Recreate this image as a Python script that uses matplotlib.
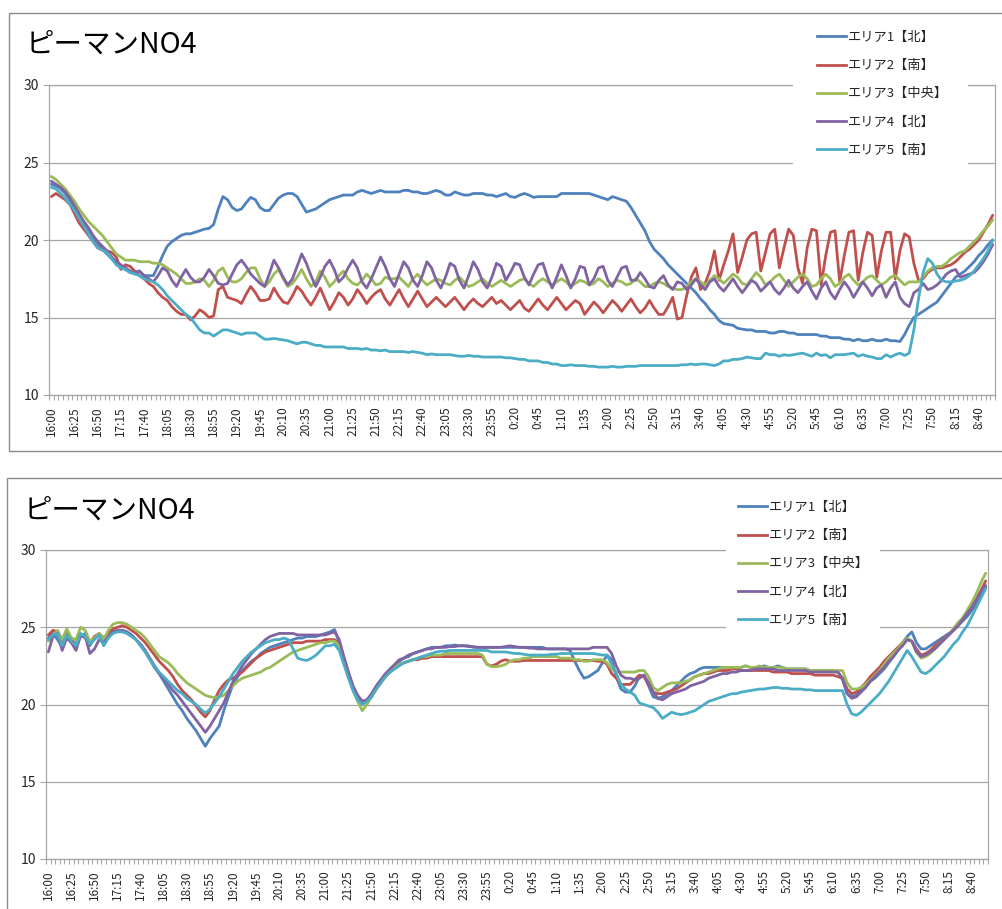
import matplotlib
matplotlib.use("Agg")
import matplotlib.pyplot as plt
from matplotlib.patches import Rectangle
from matplotlib.lines import Line2D
from matplotlib.ticker import FixedLocator, NullFormatter

plt.rcParams['font.family'] = ['Noto Sans CJK JP', 'DejaVu Sans']

# ---- categories: 5-minute readings from 16:00 to 8:55 ----
times = []
for k in range(204):
    m = 16 * 60 + 5 * k
    h = (m // 60) % 24
    times.append(f"{h}:{m % 60:02d}")

series_names = ["エリア1【北】", "エリア2【南】", "エリア3【中央】", "エリア4【北】", "エリア5【南】"]
series_colors = ["#4F81BD", "#C0504D", "#9BBB59", "#8064A2", "#4BACC6"]

# ---- upper chart ----
upper_area1 = [
    23.6, 23.5, 23.3, 23.0, 22.6, 22.1, 21.6, 21.1, 20.7, 20.2,
    19.8, 19.4, 19.1, 18.8, 18.5, 18.3, 18.1, 17.9, 17.9, 18.0,
    17.7, 17.7, 17.7, 18.3, 19.0, 19.6, 19.9, 20.1, 20.3, 20.4,
    20.4, 20.5, 20.6, 20.7, 20.75, 21.0, 22.0, 22.8, 22.6, 22.1,
    21.9, 22.0, 22.4, 22.75, 22.6, 22.1, 21.9, 21.9, 22.3, 22.7,
    22.9, 23.0, 23.0, 22.8, 22.3, 21.8, 21.9, 22.0, 22.2, 22.4,
    22.6, 22.7, 22.8, 22.9, 22.9, 22.9, 23.1, 23.2, 23.1, 23.0,
    23.1, 23.2, 23.1, 23.1, 23.1, 23.1, 23.2, 23.2, 23.1, 23.1,
    23.0, 23.0, 23.1, 23.2, 23.1, 22.9, 22.9, 23.1, 23.0, 22.9,
    22.9, 23.0, 23.0, 23.0, 22.9, 22.9, 22.8, 22.9, 23.0, 22.8,
    22.75, 22.9, 23.0, 22.9, 22.75, 22.8, 22.8, 22.8, 22.8, 22.8,
    23.0, 23.0, 23.0, 23.0, 23.0, 23.0, 23.0, 22.9, 22.8, 22.7,
    22.6, 22.8, 22.7, 22.6, 22.5, 22.1, 21.6, 21.1, 20.6, 19.9,
    19.4, 19.1, 18.8, 18.4, 18.1, 17.8, 17.5, 17.2, 16.9, 16.6,
    16.2, 15.9, 15.5, 15.2, 14.8, 14.6, 14.55, 14.5, 14.3, 14.25,
    14.2, 14.2, 14.1, 14.1, 14.1, 14.0, 14.0, 14.1, 14.1, 14.0,
    14.0, 13.9, 13.9, 13.9, 13.9, 13.9, 13.8, 13.8, 13.7, 13.7,
    13.7, 13.6, 13.6, 13.5, 13.6, 13.5, 13.5, 13.6, 13.5, 13.5,
    13.6, 13.5, 13.5, 13.45, 13.9, 14.5, 15.0, 15.2, 15.4, 15.6,
    15.8, 16.0, 16.4, 16.8, 17.2, 17.6, 17.8, 18.0, 18.3, 18.6,
    19.0, 19.3, 19.7, 20.0,
]
upper_area2 = [
    22.8, 23.0, 22.8, 22.6, 22.3, 21.7, 21.1, 20.7, 20.3, 19.9,
    19.5, 19.35, 19.3, 19.2, 18.9, 18.1, 18.4, 18.3, 18.0, 17.7,
    17.5, 17.2, 17.0, 16.6, 16.3, 16.1, 15.7, 15.4, 15.2, 15.2,
    14.85, 15.1, 15.5, 15.3, 15.0, 15.1, 16.8, 17.0, 16.3, 16.2,
    16.1, 15.9, 16.5, 17.0, 16.6, 16.1, 16.1, 16.2, 16.9, 16.4,
    16.0, 15.9, 16.4, 17.0, 16.7, 16.2, 15.8, 16.3, 16.9, 16.2,
    15.5, 16.0, 16.6, 16.3, 15.8, 16.2, 16.8, 16.4, 15.9, 16.3,
    16.6, 16.8, 16.2, 15.8, 16.3, 16.8, 16.2, 15.7, 16.2, 16.7,
    16.2, 15.7, 16.0, 16.3, 16.0, 15.7, 16.0, 16.3, 15.9, 15.5,
    15.9, 16.2, 15.9, 15.7, 16.0, 16.3, 15.9, 16.1, 15.8, 15.5,
    15.8, 16.1, 15.6, 15.4, 15.8, 16.2, 15.8, 15.5, 15.9, 16.3,
    15.9, 15.5, 15.8, 16.1, 15.9, 15.2, 15.6, 16.0, 15.7, 15.3,
    15.7, 16.1, 15.8, 15.4, 15.8, 16.2, 15.7, 15.3, 15.6, 16.1,
    15.6, 15.2, 15.2, 15.7, 16.3, 14.9, 15.0, 16.4, 17.6, 18.2,
    16.8, 17.2, 18.0, 19.3, 17.4, 18.4, 19.3, 20.4, 17.9, 18.9,
    20.0, 20.4, 20.5, 18.0, 19.2, 20.4, 20.7, 18.2, 19.5, 20.7,
    20.3, 18.2, 17.2, 19.5, 20.7, 20.6, 17.1, 19.0, 20.5, 20.6,
    17.3, 19.0, 20.5, 20.6, 17.4, 19.2, 20.5, 20.3, 17.6, 19.3,
    20.5, 20.5, 17.5, 19.3, 20.4, 20.2, 18.5, 17.4, 17.5, 17.9,
    18.1, 18.2, 18.2, 18.3, 18.4, 18.6, 18.9, 19.2, 19.4, 19.7,
    20.0, 20.5, 21.0, 21.6,
]
upper_area3 = [
    24.1, 23.9, 23.6, 23.3, 22.9, 22.5, 22.0, 21.6, 21.2, 20.9,
    20.6, 20.3, 19.9, 19.5, 19.1, 18.9, 18.7, 18.7, 18.7, 18.6,
    18.6, 18.6, 18.5, 18.5, 18.4, 18.2, 18.0, 17.8, 17.5, 17.2,
    17.2, 17.3, 17.5, 17.4, 17.0, 17.4, 18.0, 18.2, 17.6, 17.3,
    17.3, 17.5, 17.9, 18.2, 18.2, 17.5, 17.0, 17.3, 17.8, 18.1,
    17.5, 17.0, 17.2, 17.6, 18.1, 17.5, 17.0, 17.3, 18.0, 17.6,
    17.0, 17.3, 17.7, 18.0, 17.5, 17.2, 17.1, 17.4, 17.8, 17.5,
    17.1, 17.2, 17.6, 17.5, 17.5, 17.6, 17.3, 17.0, 17.5, 17.8,
    17.4, 17.1, 17.3, 17.5, 17.4, 17.2, 17.1, 17.4, 17.6, 17.3,
    17.0, 17.1, 17.3, 17.5, 17.2, 17.0, 17.2, 17.4, 17.2, 17.0,
    17.2, 17.4, 17.5, 17.2, 17.0, 17.3, 17.5, 17.3, 17.1, 17.3,
    17.5, 17.3, 17.0, 17.2, 17.4, 17.3, 17.1, 17.2, 17.5, 17.3,
    17.0, 17.2, 17.4, 17.3, 17.1, 17.2, 17.5, 17.3, 17.0, 17.0,
    17.2, 17.3, 17.2, 17.0, 16.9, 16.8, 16.8, 17.0, 17.3, 17.5,
    17.3, 17.1, 17.4, 17.7, 17.5, 17.2, 17.5, 17.8, 17.6, 17.2,
    17.1, 17.5, 17.9, 17.6, 17.1, 17.3, 17.6, 17.8, 17.4, 17.0,
    17.3, 17.6, 17.8, 17.5, 17.0, 17.1, 17.5, 17.8, 17.5, 17.0,
    17.2, 17.6, 17.8, 17.4, 17.1, 17.3, 17.6, 17.7, 17.4, 17.1,
    17.3, 17.6, 17.7, 17.4, 17.1, 17.3, 17.3, 17.3, 17.6, 18.0,
    18.2, 18.3, 18.3, 18.5, 18.8, 19.0, 19.2, 19.3, 19.6, 19.9,
    20.2, 20.6, 20.9, 21.3,
]
upper_area4 = [
    23.8, 23.6, 23.4, 23.1, 22.7, 22.2, 21.7, 21.2, 20.8, 20.3,
    19.9, 19.6, 19.3, 18.9, 18.6, 18.4, 18.2, 18.0, 17.9, 18.0,
    17.7, 17.5, 17.3, 17.7, 18.2, 18.0, 17.4, 17.0, 17.6, 18.1,
    17.6, 17.3, 17.3, 17.6, 18.1, 17.7, 17.2, 17.1, 17.2, 17.8,
    18.4, 18.7, 18.3, 17.8, 17.5, 17.2, 17.0, 17.8, 18.7, 18.2,
    17.6, 17.1, 17.5, 18.3, 19.1, 18.5, 17.7, 17.0, 17.6, 18.3,
    18.7, 18.1, 17.3, 17.6, 18.2, 18.7, 18.2, 17.3, 16.9, 17.5,
    18.2, 18.9, 18.3, 17.5, 17.0, 17.8, 18.6, 18.2, 17.4, 17.0,
    17.7, 18.6, 18.2, 17.4, 16.9, 17.6, 18.5, 18.3, 17.4, 16.9,
    17.7, 18.6, 18.1, 17.3, 16.9, 17.6, 18.5, 18.3, 17.4, 17.9,
    18.5, 18.4, 17.6, 17.1, 17.8, 18.4, 18.5, 17.6, 16.9, 17.6,
    18.4, 17.7, 16.9, 17.5, 18.3, 18.2, 17.1, 17.5, 18.2, 18.3,
    17.4, 17.0, 17.6, 18.2, 18.3, 17.4, 17.4, 17.9, 17.5, 17.0,
    16.9, 17.4, 17.7, 17.1, 16.8, 17.3, 17.2, 16.8, 17.1, 17.5,
    17.1, 16.8, 17.3, 17.5, 17.0, 16.7, 17.1, 17.5, 17.0, 16.6,
    17.0, 17.4, 17.2, 16.7, 17.0, 17.3, 16.8, 16.5, 16.9, 17.4,
    16.9, 16.6, 17.0, 17.3, 16.7, 16.2, 16.9, 17.3, 16.6, 16.2,
    16.8, 17.3, 16.9, 16.3, 16.8, 17.3, 16.9, 16.4, 16.9, 17.1,
    16.3, 16.9, 17.3, 16.3, 15.9, 15.7, 16.6, 16.8, 17.2, 16.8,
    16.9, 17.1, 17.4, 17.8, 18.0, 18.1, 17.6, 17.7, 17.8, 17.9,
    18.2, 18.6, 19.1, 19.7,
]
upper_area5 = [
    23.4, 23.3, 23.0, 22.7, 22.3, 21.9, 21.4, 20.9, 20.4, 19.9,
    19.5, 19.35, 19.2, 18.8, 18.4, 18.2, 18.1, 17.9, 17.8, 17.7,
    17.5, 17.4, 17.3, 17.1, 16.8, 16.4, 16.1, 15.8, 15.5, 15.2,
    15.0, 14.6, 14.2, 14.0, 14.0, 13.8, 14.0, 14.2, 14.2, 14.1,
    14.0, 13.9, 14.0, 14.0, 14.0, 13.8, 13.6, 13.6, 13.65, 13.6,
    13.55, 13.5, 13.4, 13.3, 13.4, 13.4, 13.3, 13.2, 13.2, 13.1,
    13.1, 13.1, 13.1, 13.1, 13.0, 13.0, 13.0, 12.95, 13.0, 12.9,
    12.9, 12.85, 12.9, 12.8, 12.8, 12.8, 12.8, 12.75, 12.8, 12.75,
    12.7, 12.6, 12.65, 12.6, 12.6, 12.6, 12.6, 12.55, 12.5, 12.5,
    12.55, 12.5, 12.5, 12.45, 12.45, 12.45, 12.45, 12.45, 12.4, 12.4,
    12.35, 12.3, 12.3, 12.2, 12.2, 12.2, 12.1, 12.1, 12.0, 12.0,
    11.9, 11.9, 11.95, 11.9, 11.9, 11.9, 11.85, 11.85, 11.8, 11.8,
    11.8, 11.85, 11.8, 11.8, 11.85, 11.85, 11.85, 11.9, 11.9, 11.9,
    11.9, 11.9, 11.9, 11.9, 11.9, 11.9, 11.95, 11.95, 12.0, 11.95,
    12.0, 12.0, 11.95, 11.9, 12.0, 12.2, 12.2, 12.3, 12.3, 12.35,
    12.45, 12.4, 12.35, 12.35, 12.7, 12.6, 12.6, 12.5, 12.6, 12.55,
    12.6, 12.65, 12.7, 12.6, 12.5, 12.7, 12.55, 12.6, 12.4, 12.6,
    12.6, 12.6, 12.65, 12.7, 12.5, 12.6, 12.5, 12.45, 12.35, 12.35,
    12.6, 12.45, 12.6, 12.7, 12.55, 12.7, 14.2, 16.2, 17.9, 18.8,
    18.5, 17.8, 17.4, 17.3, 17.3, 17.35, 17.4, 17.5, 17.7, 18.0,
    18.4, 18.8, 19.3, 20.0,
]

# ---- lower chart ----
lower_area1 = [
    24.3, 24.6, 24.2, 23.7, 24.5, 24.0, 23.7, 24.4, 24.6, 23.8,
    24.3, 24.5, 24.0, 24.4, 24.7, 24.8, 24.8, 24.7, 24.5, 24.2,
    23.8, 23.4, 22.9, 22.4, 22.0, 21.5, 21.0, 20.5, 20.0, 19.6,
    19.1, 18.7, 18.3, 17.8, 17.3, 17.8, 18.2, 18.6, 19.6, 20.5,
    21.3, 21.8, 22.2, 22.5, 22.8, 23.0, 23.3, 23.5, 23.7, 23.8,
    23.9, 24.0, 24.1, 24.2, 24.3, 24.3, 24.4, 24.4, 24.4, 24.5,
    24.6, 24.7, 24.85, 24.0, 23.0, 22.0, 21.1, 20.5, 20.1, 20.3,
    20.6, 21.0, 21.5, 21.9, 22.2, 22.5, 22.8, 23.0, 23.1, 23.3,
    23.4, 23.5, 23.6, 23.7, 23.7, 23.7, 23.8, 23.8, 23.85, 23.8,
    23.8, 23.8, 23.7, 23.7, 23.7, 23.7, 23.7, 23.7, 23.7, 23.7,
    23.7, 23.7, 23.7, 23.7, 23.7, 23.7, 23.7, 23.7, 23.6, 23.6,
    23.6, 23.6, 23.6, 23.5, 22.8, 22.2, 21.7, 21.8, 22.0, 22.2,
    22.7, 23.2, 22.9, 21.8, 21.0, 20.8, 20.8, 21.2, 21.8, 21.9,
    21.2, 20.5, 20.4, 20.5, 20.7, 20.9, 21.2, 21.5, 21.8, 22.0,
    22.1, 22.3, 22.4, 22.4, 22.4, 22.4, 22.4, 22.4, 22.4, 22.4,
    22.4, 22.5, 22.4, 22.4, 22.4, 22.5, 22.4, 22.4, 22.5, 22.4,
    22.3, 22.3, 22.3, 22.3, 22.3, 22.2, 22.2, 22.2, 22.2, 22.2,
    22.2, 22.1, 21.6, 20.7, 20.5, 20.6, 20.9, 21.2, 21.5, 21.7,
    22.0, 22.3, 22.7, 23.1, 23.5, 24.0, 24.4, 24.7, 24.0, 23.6,
    23.6, 23.8, 24.0, 24.2, 24.4, 24.6, 24.8, 25.1, 25.4, 25.7,
    26.1, 26.5, 27.0, 27.6,
]
lower_area2 = [
    24.5, 24.8, 24.7, 24.0, 24.6, 24.2, 23.9, 24.5, 24.3, 24.0,
    24.4, 24.6, 24.3, 24.6, 24.9, 25.0, 25.1, 25.0, 24.8, 24.6,
    24.3, 24.0, 23.6, 23.2, 22.8, 22.5, 22.2, 21.8, 21.3, 20.9,
    20.6, 20.3, 19.9, 19.5, 19.2, 19.6, 20.3, 20.9, 21.3, 21.6,
    21.7, 21.9, 22.1, 22.4, 22.7, 23.0, 23.2, 23.4, 23.5, 23.6,
    23.7, 23.8, 23.9, 24.0, 24.0, 24.0, 24.1, 24.1, 24.1, 24.1,
    24.2, 24.2, 24.2, 23.9, 23.0, 22.0, 21.1, 20.5, 20.2, 20.3,
    20.5, 21.0, 21.4, 21.8, 22.1, 22.4, 22.6, 22.7, 22.8, 22.9,
    22.9, 23.0, 23.0, 23.1, 23.1, 23.1, 23.1, 23.1, 23.1, 23.1,
    23.1, 23.1, 23.1, 23.1, 23.1, 22.6, 22.5, 22.6, 22.8, 22.9,
    22.8, 22.8, 22.8, 22.85, 22.85, 22.85, 22.85, 22.85, 22.85, 22.85,
    22.85, 22.85, 22.85, 22.85, 22.85, 22.85, 22.85, 22.85, 22.85, 22.8,
    22.8, 22.6, 22.0, 21.7, 21.3, 21.3, 21.3, 21.6, 21.9, 21.8,
    21.3, 20.8, 20.7, 20.7, 20.8, 20.9, 21.0, 21.2, 21.4, 21.6,
    21.8, 21.9, 22.0, 22.0, 22.1, 22.2, 22.2, 22.2, 22.3, 22.3,
    22.2, 22.2, 22.2, 22.2, 22.2, 22.2, 22.2, 22.1, 22.1, 22.1,
    22.1, 22.0, 22.0, 22.0, 22.0, 22.0, 21.9, 21.9, 21.9, 21.9,
    21.9, 21.8, 21.7, 21.0, 20.7, 20.8, 21.1, 21.4, 21.8, 22.1,
    22.4, 22.8, 23.1, 23.4, 23.7, 24.0, 24.2, 24.1, 23.6, 23.2,
    23.3, 23.5, 23.8, 24.0, 24.3, 24.5, 24.8, 25.1, 25.5, 25.9,
    26.3, 26.8, 27.4, 28.0,
]
lower_area3 = [
    24.1, 24.4, 24.8, 24.2, 24.9, 24.3, 24.2, 25.0, 24.8, 24.1,
    24.3, 24.6, 24.2, 24.8, 25.2, 25.3, 25.3, 25.2, 25.0, 24.8,
    24.6, 24.3, 23.9, 23.5, 23.1, 22.9, 22.7, 22.4, 22.0, 21.7,
    21.4, 21.2, 21.0, 20.8, 20.6, 20.5, 20.45, 20.5, 20.6, 20.9,
    21.2, 21.5, 21.7, 21.8, 21.9, 22.0, 22.1, 22.3, 22.4, 22.6,
    22.8, 23.0, 23.2, 23.4, 23.5, 23.6, 23.7, 23.8, 23.9, 24.0,
    24.0, 24.1, 24.1, 23.8, 22.8, 21.8, 20.9, 20.2, 19.6, 20.0,
    20.5, 21.0, 21.4, 21.8, 22.1, 22.4, 22.6, 22.7, 22.8, 22.9,
    23.0, 23.1, 23.1, 23.2, 23.2, 23.2, 23.3, 23.3, 23.3, 23.3,
    23.3, 23.3, 23.3, 23.3, 23.2, 22.6, 22.45, 22.45, 22.5, 22.6,
    22.8, 22.9, 22.9, 23.0, 23.0, 23.1, 23.1, 23.1, 23.1, 23.1,
    23.1, 23.0, 23.0, 23.0, 22.9, 22.9, 22.8, 22.8, 22.9, 22.9,
    22.9, 22.7, 22.3, 22.1, 22.1, 22.1, 22.1, 22.1, 22.2, 22.2,
    21.8, 21.1, 20.9, 21.1, 21.3, 21.4, 21.4, 21.4, 21.5, 21.6,
    21.8, 21.9, 22.0, 22.1, 22.2, 22.3, 22.4, 22.4, 22.4, 22.4,
    22.4, 22.5, 22.4, 22.4, 22.5, 22.4, 22.4, 22.4, 22.4, 22.4,
    22.3, 22.3, 22.3, 22.3, 22.3, 22.2, 22.2, 22.2, 22.2, 22.2,
    22.2, 22.2, 22.2, 21.4, 21.0, 21.0, 21.1, 21.3, 21.6, 21.9,
    22.2, 22.6, 23.0, 23.3, 23.6, 24.0, 24.3, 24.1, 23.4, 23.0,
    23.1, 23.3, 23.6, 23.9, 24.2, 24.5, 24.9, 25.3, 25.6, 26.1,
    26.6, 27.2, 27.9, 28.5,
]
lower_area4 = [
    23.4, 24.4, 24.6, 23.5, 24.3, 24.0, 23.5, 24.5, 24.4, 23.3,
    23.6, 24.2, 24.0, 24.4, 24.7, 24.8, 24.8, 24.7, 24.5, 24.2,
    23.9, 23.5, 23.0, 22.5, 22.0, 21.7, 21.3, 20.9, 20.6, 20.2,
    19.8, 19.4, 19.0, 18.6, 18.2, 18.6, 19.1, 19.6, 20.1, 20.8,
    21.5, 22.0, 22.5, 22.9, 23.3, 23.6, 23.9, 24.2, 24.4, 24.5,
    24.6, 24.6, 24.6, 24.6, 24.5, 24.5, 24.5, 24.5, 24.5, 24.5,
    24.5, 24.6, 24.7, 24.2, 23.1, 22.1, 21.2, 20.6, 20.2, 20.3,
    20.7, 21.2, 21.6, 22.0, 22.3, 22.6, 22.9, 23.0, 23.2, 23.3,
    23.4, 23.5, 23.6, 23.6, 23.7, 23.7, 23.7, 23.75, 23.75, 23.8,
    23.8, 23.75, 23.75, 23.7, 23.7, 23.7, 23.7, 23.7, 23.7, 23.75,
    23.8, 23.75, 23.7, 23.7, 23.65, 23.65, 23.6, 23.6, 23.6, 23.6,
    23.6, 23.6, 23.6, 23.6, 23.6, 23.6, 23.6, 23.6, 23.7, 23.7,
    23.7, 23.7, 23.3, 22.5, 21.9, 21.7, 21.7, 21.6, 21.7, 21.9,
    21.4, 20.8, 20.4, 20.3, 20.5, 20.7, 20.8, 20.9, 21.0, 21.2,
    21.3, 21.4, 21.5, 21.7, 21.8, 21.9, 22.0, 22.0, 22.1, 22.1,
    22.2, 22.2, 22.2, 22.3, 22.3, 22.3, 22.3, 22.3, 22.2, 22.2,
    22.2, 22.2, 22.2, 22.2, 22.2, 22.1, 22.1, 22.1, 22.1, 22.1,
    22.1, 22.1, 21.7, 20.7, 20.4, 20.5, 20.8, 21.1, 21.5, 21.8,
    22.1, 22.4, 22.8, 23.1, 23.5, 23.8, 24.2, 24.1, 23.4, 23.1,
    23.2, 23.4, 23.6, 23.9, 24.2, 24.5, 24.8, 25.1, 25.5, 25.9,
    26.3, 26.8, 27.3, 27.7,
]
lower_area5 = [
    24.2, 24.5, 24.6, 23.8, 24.5, 24.1, 23.8, 24.6, 24.4, 23.9,
    24.2, 24.5, 23.8, 24.3, 24.6, 24.7, 24.7, 24.6, 24.4, 24.2,
    23.8, 23.4, 22.9, 22.5, 22.1, 21.8, 21.5, 21.2, 20.9, 20.7,
    20.4, 20.2, 20.0, 19.7, 19.45, 19.7, 20.1, 20.5, 21.0, 21.5,
    22.0, 22.4, 22.8, 23.1, 23.4, 23.6, 23.8, 24.0, 24.1, 24.2,
    24.2, 24.3, 24.2, 23.6, 23.0, 22.9, 22.85, 23.0, 23.2, 23.5,
    23.8, 23.8, 23.9, 23.5, 22.6, 21.7, 20.9, 20.3, 20.0, 20.2,
    20.5, 21.0, 21.4, 21.8, 22.1, 22.3, 22.5, 22.7, 22.8, 22.9,
    23.0, 23.1, 23.2, 23.3, 23.4, 23.45, 23.45, 23.5, 23.5, 23.5,
    23.5, 23.5, 23.5, 23.5, 23.5, 23.5, 23.4, 23.4, 23.4, 23.4,
    23.35, 23.3, 23.3, 23.25, 23.2, 23.2, 23.2, 23.2, 23.2, 23.25,
    23.25, 23.3, 23.3, 23.3, 23.3, 23.3, 23.3, 23.3, 23.3, 23.25,
    23.2, 23.2, 22.6, 22.0, 21.3, 21.0, 20.8, 20.6, 20.1, 20.0,
    19.9, 19.8, 19.5, 19.1, 19.3, 19.5, 19.4, 19.35, 19.4, 19.5,
    19.6, 19.8, 20.0, 20.2, 20.3, 20.4, 20.5, 20.6, 20.7, 20.7,
    20.8, 20.85, 20.9, 20.95, 21.0, 21.0, 21.05, 21.1, 21.1, 21.05,
    21.05, 21.0, 21.0, 21.0, 20.95, 20.95, 20.9, 20.9, 20.9, 20.9,
    20.9, 20.9, 20.9, 20.0, 19.4, 19.3, 19.5, 19.8, 20.1, 20.4,
    20.7, 21.1, 21.5, 22.0, 22.5, 23.0, 23.5, 23.1, 22.6, 22.1,
    22.0, 22.2, 22.5, 22.8, 23.1, 23.5, 23.9, 24.2, 24.7, 25.1,
    25.7, 26.3, 26.9, 27.5,
]

chart_title = "ピーマンNO4"
y_ticks = [10, 15, 20, 25, 30]

W, H = 1003, 909
fig = plt.figure(figsize=(W / 100, H / 100), dpi=100)
fig.patch.set_facecolor("white")

GRID = "#a6a6a6"
TEXT = "#262626"


def fx(px):
    return px / W


def fy(py):
    return 1 - py / H


def draw_panel(left, top, right, bottom, series):
    ax = fig.add_axes([fx(left), fy(bottom), fx(right - left), (bottom - top) / H])
    n = len(times)
    xs = list(range(n))
    for vals, color in zip(series, series_colors):
        ax.plot(xs, vals, color=color, lw=2.0, solid_joinstyle="round",
                solid_capstyle="round")
    ax.set_xlim(-0.5, n - 0.5)
    ax.set_ylim(10, 30)
    ax.set_yticks(y_ticks)
    ax.set_yticklabels([str(v) for v in y_ticks], fontsize=10, color=TEXT)
    ax.grid(axis="y", color=GRID, lw=0.9)
    ax.set_axisbelow(True)
    for sp in ax.spines.values():
        sp.set_color(GRID)
        sp.set_linewidth(0.9)
    ax.tick_params(axis="y", length=4, color=GRID, pad=3)
    # category labels every fifth reading, tick marks on every category boundary
    label_pos = list(range(0, n, 5))
    ax.set_xticks(label_pos)
    ax.set_xticklabels([times[k] for k in label_pos], rotation=90,
                       fontsize=8.5, color=TEXT)
    ax.tick_params(axis="x", which="major", length=0, pad=8)
    ax.xaxis.set_minor_locator(FixedLocator([k - 0.5 for k in range(n + 1)]))
    ax.xaxis.set_minor_formatter(NullFormatter())
    ax.tick_params(axis="x", which="minor", length=3.5, color=GRID, width=0.8)
    return ax


# chart frames
fig.patches.append(Rectangle((fx(9), fy(451)), 1.1, (451 - 13) / H,
                             transform=fig.transFigure, fill=False,
                             edgecolor="#8c8c8c", lw=1.0, zorder=0.5))
fig.patches.append(Rectangle((fx(7), fy(915)), 1.1, (915 - 478) / H,
                             transform=fig.transFigure, fill=False,
                             edgecolor="#8c8c8c", lw=1.0, zorder=0.5))

ax_top = draw_panel(49, 85, 995, 395,
                    [upper_area1, upper_area2, upper_area3, upper_area4, upper_area5])
ax_bot = draw_panel(46, 550, 988, 859,
                    [lower_area1, lower_area2, lower_area3, lower_area4, lower_area5])

fig.text(fx(26), fy(45), chart_title, fontsize=20.5, va="center", ha="left", color="black")
fig.text(fx(24), fy(511), chart_title, fontsize=20.5, va="center", ha="left", color="black")


def add_legend(box, anchor):
    x0, y0, x1, y1 = box
    fig.patches.append(Rectangle((fx(x0), fy(y1)), (x1 - x0) / W, (y1 - y0) / H,
                                 transform=fig.transFigure, facecolor="white",
                                 edgecolor="none", zorder=2))
    handles = [Line2D([], [], color=c, lw=2.0) for c in series_colors]
    leg = fig.legend(handles, series_names, loc="upper left",
                     bbox_to_anchor=(fx(anchor[0]), fy(anchor[1])),
                     frameon=False, fontsize=9.5, handlelength=2.2,
                     handletextpad=0.15, labelspacing=1.15, borderpad=0,
                     borderaxespad=0)
    for t in leg.get_texts():
        t.set_color(TEXT)
    leg.set_zorder(3)


add_legend((793, 16, 968, 166), (817, 31))
add_legend((726, 482, 880, 632), (738, 501))

fig.savefig("out.png", dpi=100, facecolor="white")
